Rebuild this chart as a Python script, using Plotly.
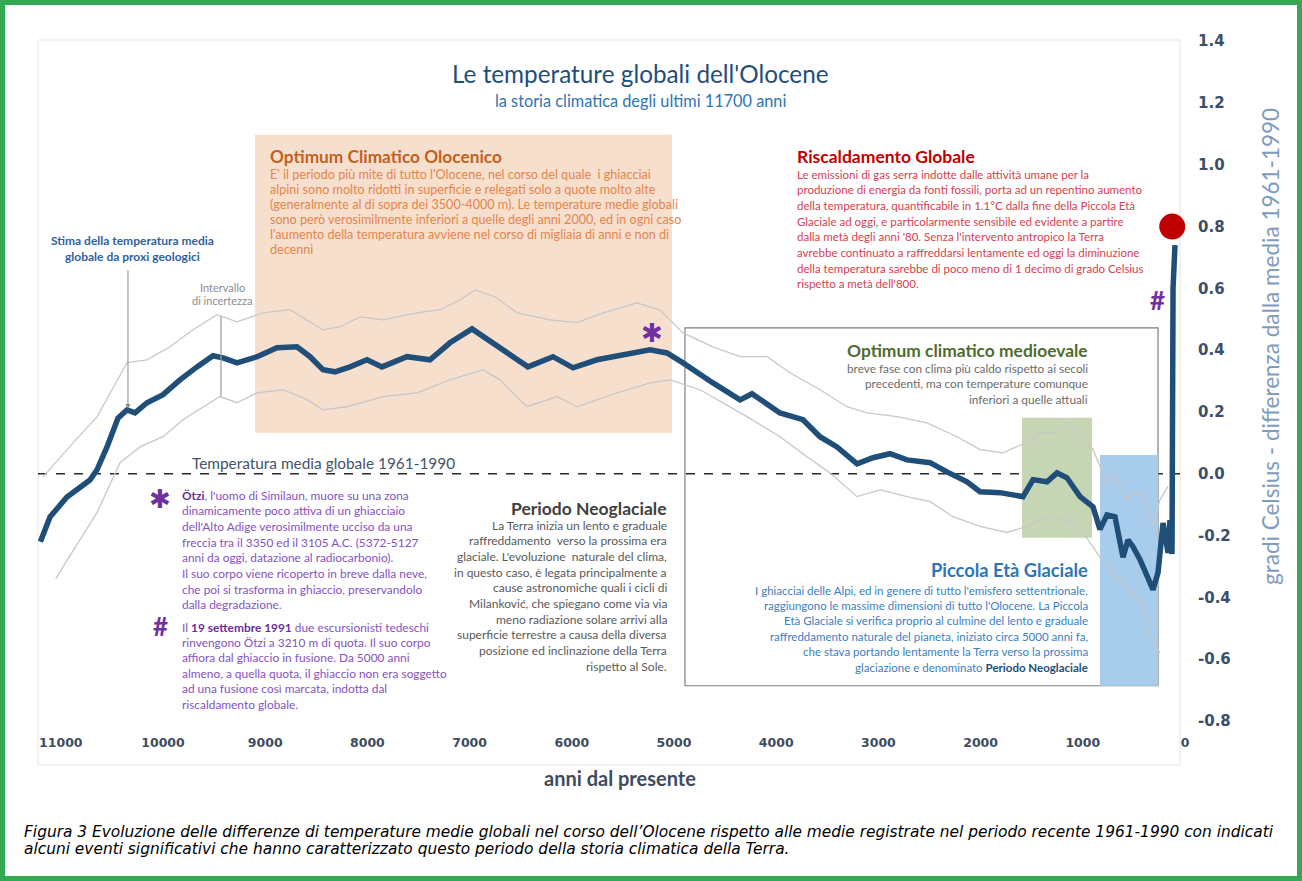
import plotly.graph_objects as go

# ---------------- data ----------------
years_mean = [11200, 11106, 10940, 10715, 10646, 10548, 10441, 10352, 10274, 10157,
              10000, 9834, 9668, 9511, 9413, 9276, 9080, 8885, 8689, 8562,
              8435, 8317, 8170, 8004, 7857, 7613, 7388, 7192, 6977, 6771,
              6536, 6429, 6184, 5988, 5754, 5499, 5235, 5069, 4912, 4619,
              4354, 4237, 3963, 3738, 3572, 3405, 3209, 3053, 2887, 2720,
              2495, 2329, 2133, 2006, 1810, 1585, 1487, 1350, 1252, 1155,
              1027, 900, 832, 763, 685, 607, 558, 509, 440, 313,
              264, 215, 166, 147, 127, 117, 98]
temp_mean = [-0.22, -0.14, -0.075, -0.02, 0.013, 0.087, 0.18, 0.207, 0.197, 0.23,
             0.256, 0.304, 0.346, 0.382, 0.375, 0.359, 0.379, 0.408, 0.411, 0.379,
             0.337, 0.33, 0.346, 0.369, 0.346, 0.379, 0.369, 0.424, 0.469, 0.424,
             0.369, 0.346, 0.379, 0.343, 0.369, 0.385, 0.401, 0.391, 0.359, 0.294,
             0.239, 0.259, 0.197, 0.175, 0.12, 0.087, 0.032, 0.052, 0.065, 0.045,
             0.036, 0.006, -0.026, -0.058, -0.061, -0.074, -0.019, -0.026, 0.003, -0.013,
             -0.074, -0.107, -0.18, -0.133, -0.139, -0.27, -0.214, -0.236, -0.278, -0.375,
             -0.32, -0.159, -0.256, -0.15, -0.26, 0.6, 0.74]

years_upper = [11174, 10881, 10646, 10352, 10157, 9932, 9707, 9472, 9276, 9022,
               8758, 8591, 8435, 8268, 8073, 7848, 7515, 7290, 7094, 6948,
               6752, 6536, 6213, 5949, 5695, 5362, 5137, 4912, 4619, 4354,
               4090, 3865, 3572, 3307, 3112, 2818, 2525, 2231, 2006, 1781,
               1487, 1448, 1252, 1125, 998, 900, 763, 705, 568, 440,
               313, 245, 166]
temp_upper = [-0.01, 0.10, 0.184, 0.36, 0.369, 0.411, 0.466, 0.515, 0.492, 0.521,
              0.531, 0.498, 0.466, 0.476, 0.508, 0.498, 0.521, 0.531, 0.563, 0.595,
              0.573, 0.521, 0.498, 0.489, 0.521, 0.553, 0.53, 0.456, 0.411, 0.379,
              0.379, 0.327, 0.272, 0.217, 0.197, 0.185, 0.165, 0.12, 0.078, 0.068,
              0.11, 0.133, 0.133, 0.165, 0.12, 0.078, -0.03, 0.003, -0.084, -0.052,
              -0.17, -0.084, -0.04]

years_lower = [11050, 10940, 10646, 10421, 10225, 10000, 9805, 9609, 9443, 9276,
               9080, 8826, 8591, 8435, 8200, 7848, 7515, 7192, 6869, 6703,
               6439, 6145, 5949, 5558, 5235, 5039, 4746, 4286, 3963, 3699,
               3474, 3209, 2984, 2720, 2495, 2270, 2006, 1742, 1546, 1350,
               1155, 998, 832, 705, 568, 440, 313, 245]
temp_lower = [-0.34, -0.28, -0.126, 0.036, 0.087, 0.12, 0.175, 0.217, 0.25, 0.23,
              0.262, 0.272, 0.24, 0.207, 0.217, 0.25, 0.262, 0.304, 0.337, 0.304,
              0.217, 0.25, 0.217, 0.262, 0.294, 0.304, 0.272, 0.185, 0.12, 0.055,
              0.003, -0.074, -0.052, -0.074, -0.09, -0.139, -0.17, -0.19, -0.17, -0.139,
              -0.15, -0.19, -0.27, -0.32, -0.365, -0.41, -0.54, -0.58]

present_year = [125]
present_temp = [0.80]

x_ticks = [11000, 10000, 9000, 8000, 7000, 6000, 5000, 4000, 3000, 2000, 1000, 0]
x_tick_labels = ["11000", "10000", "9000", "8000", "7000", "6000", "5000", "4000",
                 "3000", "2000", "1000", "0"]
y_ticks = [-0.8, -0.6, -0.4, -0.2, 0.0, 0.2, 0.4, 0.6, 0.8, 1.0, 1.2, 1.4]
y_tick_labels = ["-0.8", "-0.6", "-0.4", "-0.2", "0.0", "0.2", "0.4", "0.6", "0.8",
                 "1.0", "1.2", "1.4"]

# periods (years before present) and their vertical extent (deg C)
holocene_optimum = (9100, 5020, 0.133, 1.097)
neoglacial_frame = (4893, 264, -0.686, 0.472)
medieval_optimum = (1595, 910, -0.207, 0.181)
little_ice_age = (832, 264, -0.686, 0.061)
otzi_death = (5215, 0.456)
otzi_found = (274, 0.563)
proxy_arrow_point = (10343, 0.21)
uncertainty_bar = (9433, 0.25, 0.51)

# ---------------- layout helpers ----------------
L, R, T, B = 38, 1185, 40, 733
W, H = 1302, 881
X_RANGE = [(R - L) * 9.785, 0]
Y_RANGE = [-0.839, 1.404]


def PX(x):
    return (x - L) / (R - L)


def PY(y):
    return (B - y) / (B - T)


BODY = "Lato"
anns = []


def txt(x, y, text, size, color, anchor="left", family=BODY, bold=False):
    if bold:
        text = "<b>" + text + "</b>"
    anns.append(dict(xref="paper", yref="paper", x=PX(x), y=PY(y), text=text,
                     showarrow=False, xanchor=anchor, yanchor="middle",
                     font=dict(family=family, size=size, color=color)))


def para(lines, x, y0, dy, size, color, anchor="left", family=BODY):
    for i, t in enumerate(lines):
        txt(x, y0 + i * dy, t, size, color, anchor, family=family)


fig = go.Figure()

# uncertainty band edges
fig.add_trace(go.Scatter(x=years_upper, y=temp_upper, mode="lines",
                         line=dict(color="#c8c8c8", width=1.3), hoverinfo="skip"))
fig.add_trace(go.Scatter(x=years_lower, y=temp_lower, mode="lines",
                         line=dict(color="#c8c8c8", width=1.3), hoverinfo="skip"))
# mean estimate
fig.add_trace(go.Scatter(x=years_mean, y=temp_mean, mode="lines",
                         line=dict(color="#1f4e79", width=5.5, shape="linear")))
# present value
fig.add_trace(go.Scatter(x=present_year, y=present_temp, mode="markers",
                         marker=dict(color="#c00000", size=26, line=dict(width=0))))

shapes = []


def box(p, fill, line=None):
    x0, x1, y0, y1 = p
    shapes.append(dict(type="rect", xref="x", yref="y", x0=x0, x1=x1, y0=y0, y1=y1,
                       fillcolor=fill, line=dict(width=0) if line is None else line,
                       layer="below"))


# faint chart-area frame
shapes.append(dict(type="rect", xref="paper", yref="paper", x0=PX(38), x1=PX(1180),
                   y0=PY(765), y1=PY(40), line=dict(color="#e4e4e4", width=1),
                   layer="below"))
box(holocene_optimum, "#f7dfce")
box(neoglacial_frame, "rgba(0,0,0,0)", dict(color="#7f7f7f", width=1.2))
box(medieval_optimum, "#c6d6b5")
box(little_ice_age, "#a8cceb")
# reference level 1961-1990
shapes.append(dict(type="line", xref="paper", yref="y", x0=0, x1=PX(1180), y0=0, y1=0,
                   line=dict(color="#2a2a2a", width=1.5, dash="dash"), layer="below"))
# uncertainty bar
shapes.append(dict(type="line", xref="x", yref="y", x0=uncertainty_bar[0], x1=uncertainty_bar[0],
                   y0=uncertainty_bar[1], y1=uncertainty_bar[2],
                   line=dict(color="#9a9a9a", width=1.2)))
# green outer border
shapes.append(dict(type="rect", xref="paper", yref="paper", x0=PX(2.5), x1=PX(1299.5),
                   y0=PY(878.5), y1=PY(2.5), line=dict(color="#34a853", width=5)))

# ---------------- texts ----------------
txt(640, 73, "Le temperature globali dell'Olocene", 24.3, "#1f4e79", "center")
txt(640, 101, "la storia climatica degli ultimi 11700 anni", 16.3, "#2e75b6", "center")

txt(268, 157, "Optimum Climatico Olocenico", 17.3, "#c2601f", bold=True)
para(["E' il periodo più mite di tutto l'Olocene, nel corso del quale  i ghiacciai",
      "alpini sono molto ridotti in superficie e relegati solo a quote molto alte",
      "(generalmente al di sopra dei 3500-4000 m). Le temperature medie globali",
      "sono però verosimilmente inferiori a quelle degli anni 2000, ed in ogni caso",
      "l'aumento della temperatura avviene nel corso di migliaia di anni e non di",
      "decenni"], 268, 174, 15.2, 12.6, "#e5854c")

txt(795, 157, "Riscaldamento Globale", 17.5, "#c00000", bold=True)
para(["Le emissioni di gas serra indotte dalle attività umane per la",
      "produzione di energia da fonti fossili, porta ad un repentino aumento",
      "della temperatura, quantificabile in 1.1°C dalla fine della Piccola Età",
      "Glaciale ad oggi, e particolarmente sensibile ed evidente a partire",
      "dalla metà degli anni '80. Senza l'intervento antropico la Terra",
      "avrebbe continuato a raffreddarsi lentamente ed oggi la diminuzione",
      "della temperatura sarebbe di poco meno di 1 decimo di grado Celsius",
      "rispetto a metà dell'800."], 795, 174, 15.7, 11.5, "#d8404f")

para(["<b>Stima della temperatura media</b>", "<b>globale da proxi geologici</b>"],
     132, 240, 16, 12, "#2f5f9e", "center")
para(["Intervallo", "di incertezza"], 222, 287, 13.5, 11, "#8c8c8c", "center")

txt(190, 463, "Temperatura media globale 1961-1990", 15.4, "#44546a")

PURPLE = "#8552c2"
DARKP = "#6a2c9e"
txt(160, 499, "✱", 26, "#7030a0", "center", family="DejaVu Sans")
para(["<span style='color:%s'><b>Ötzi</b></span>, l'uomo di Similaun, muore su una zona" % DARKP,
      "dinamicamente poco attiva di un ghiacciaio",
      "dell'Alto Adige verosimilmente ucciso da una",
      "freccia tra il 3350 ed il 3105 A.C. (5372-5127",
      "anni da oggi, datazione al radiocarbonio).",
      "Il suo corpo viene ricoperto in breve dalla neve,",
      "che poi si trasforma in ghiaccio, preservandolo",
      "dalla degradazione."], 180, 495, 15.7, 11.9, PURPLE)
txt(160, 626, "<b>#</b>", 26, "#7030a0", "center")
para(["Il <span style='color:%s'><b>19 settembre 1991</b></span> due escursionisti tedeschi" % DARKP,
      "rinvengono Ötzi a 3210 m di quota. Il suo corpo",
      "affiora dal ghiaccio in fusione. Da 5000 anni",
      "almeno, a quella quota, il ghiaccio non era soggetto",
      "ad una fusione così marcata, indotta dal",
      "riscaldamento globale."], 180, 627, 15.4, 11.9, PURPLE)

txt(669, 508, "Periodo Neoglaciale", 17.5, "#404040", "right", bold=True)
para(["La Terra inizia un lento e graduale",
      "raffreddamento  verso la prossima era",
      "glaciale. L'evoluzione  naturale del clima,",
      "in questo caso, è legata principalmente a",
      "cause astronomiche quali i cicli di",
      "Milanković, che spiegano come via via",
      "meno radiazione solare arrivi alla",
      "superficie terrestre a causa della diversa",
      "posizione ed inclinazione della Terra",
      "rispetto al Sole."], 669, 525, 15.7, 12, "#595959", "right")

txt(1090, 350, "Optimum climatico medioevale", 17.4, "#4f6b2f", "right", bold=True)
para(["breve fase con clima più caldo rispetto ai secoli",
      "precedenti, ma con temperature comunque",
      "inferiori a quelle attuali"], 1090, 368, 15.5, 11.8, "#6b6b6b", "right")

txt(1090, 570, "Piccola Età Glaciale", 18.3, "#2e75b6", "right", bold=True)
para(["I ghiacciai delle Alpi, ed in genere di tutto l'emisfero settentrionale,",
      "raggiungono le massime dimensioni di tutto l'Olocene. La Piccola",
      "Età Glaciale si verifica proprio al culmine del lento e graduale",
      "raffreddamento naturale del pianeta, iniziato circa 5000 anni fa,",
      "che stava portando lentamente la Terra verso la prossima",
      "glaciazione e denominato <span style='color:#1f4e79'><b>Periodo Neoglaciale</b></span>"],
     1090, 590, 15.4, 11.5, "#3a80c2", "right")

# event markers on the curve
anns.append(dict(xref="x", yref="y", x=otzi_death[0], y=otzi_death[1], text="✱",
                 showarrow=False, font=dict(family="DejaVu Sans", size=26, color="#7030a0")))
anns.append(dict(xref="x", yref="y", x=otzi_found[0], y=otzi_found[1], text="<b>#</b>",
                 showarrow=False, font=dict(family=BODY, size=26, color="#7030a0")))
# arrow pointing at the proxy estimate
anns.append(dict(xref="x", yref="y", x=proxy_arrow_point[0], y=proxy_arrow_point[1], text="",
                 showarrow=True, ax=0, ay=-140, arrowhead=2, arrowsize=1, arrowwidth=1,
                 arrowcolor="#8c8c8c"))

# y axis title
anns.append(dict(xref="paper", yref="paper", x=PX(1271), y=PY(347),
                 text="gradi Celsius - differenza dalla media 1961-1990", textangle=-90,
                 showarrow=False, xanchor="center", yanchor="middle",
                 font=dict(family=BODY, size=22.5, color="#7f9bbd")))
# x axis title
txt(620, 778, "anni dal presente", 20, "#3e4c5e", "center", bold=True)

# caption
para(["<i>Figura 3 Evoluzione delle differenze di temperature medie globali nel corso dell’Olocene rispetto alle medie registrate nel periodo recente 1961-1990 con indicati</i>",
      "<i>alcuni eventi significativi che hanno caratterizzato questo periodo della storia climatica della Terra.</i>"],
     22, 832, 17, 15.4, "#000000", family="DejaVu Sans")

fig.update_layout(
    width=W, height=H,
    margin=dict(l=L, r=W - R, t=T, b=H - B),
    paper_bgcolor="white", plot_bgcolor="white",
    showlegend=False,
    shapes=shapes, annotations=anns,
    xaxis=dict(range=X_RANGE, tickmode="array", tickvals=x_ticks, ticktext=x_tick_labels,
               showgrid=False, zeroline=False, showline=False, ticks="",
               tickfont=dict(family="DejaVu Sans", size=12.5, color="#3e4c5e", weight="bold")),
    yaxis=dict(range=Y_RANGE, side="right", tickmode="array", tickvals=y_ticks,
               ticktext=y_tick_labels, showgrid=False, zeroline=False, showline=False,
               ticks="", ticklabelstandoff=12,
               tickfont=dict(family="DejaVu Sans", size=15, color="#3b4f6b", weight="bold")),
)

fig.write_html("out.html", config={"displayModeBar": False},
               post_script="document.body.style.margin='0px';")
